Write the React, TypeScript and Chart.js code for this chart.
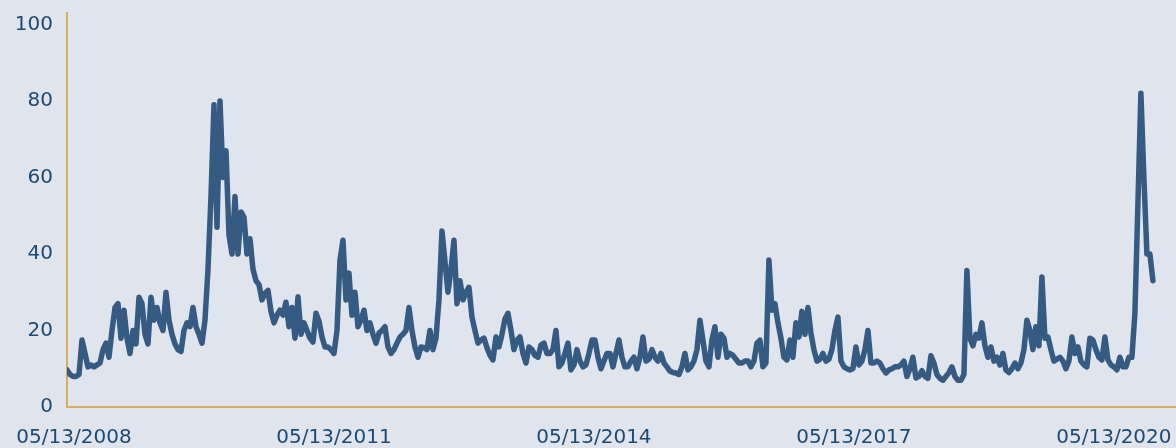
import React, { useEffect, useRef } from "react";
import { Chart, registerables } from "chart.js";

Chart.register(...registerables);

// Volatility index readings, one sample per equal step along the time axis.
const seriesPart1 = [
  9.7, 8.5, 8, 8, 8.5, 17.5, 14, 10.5, 11, 10.5,
  11, 11.5, 15, 16.7, 13, 20, 26, 27, 18, 25.3,
  18, 14, 20, 16.5, 28.7, 27, 19, 16.5, 28.7, 22.7,
  26, 22, 20, 30, 22.7, 19, 16.5, 15, 14.5, 20,
  22, 21, 26, 21, 19, 16.7, 22.7, 36, 55, 79,
  47, 80, 60, 67, 45, 40, 55, 40, 51, 49.6,
  40, 44, 36, 33, 32, 28, 29.7, 30.5, 25, 22,
  24, 25.3, 24, 27.4, 21, 26, 18, 28.8, 19, 22,
  20, 18, 17, 24.5, 22.5, 18.3, 15.7, 15.7, 15, 14,
];

const seriesPart2 = [
  20, 38.4, 43.6, 28, 35, 24, 30, 21, 22.7, 25.3,
  20, 22, 19, 16.7, 19.3, 20, 21, 15.7, 14, 15,
  16.7, 18.3, 19, 20, 26, 20, 15.7, 13, 15.7, 15.5,
  15, 20, 15, 18, 28, 46, 38, 30, 36, 43.6,
  27, 33, 28, 30, 31.3, 23.5, 20, 16.7, 17.5, 18,
  15.5, 13.5, 12.3, 18.3, 15.7, 19, 23, 24.5, 20, 15,
  17.5, 18.3, 14, 11.5, 15.7, 15, 13.5, 13, 16.2, 16.7,
  14, 14, 15, 20, 10.5, 11.5, 14, 16.7, 9.7, 11,
  15, 12, 10.5, 11, 14, 17.5, 17.5, 13,
];

const seriesPart3 = [
  10, 12, 14, 14, 10.5, 14, 17.5, 13, 10.5, 10.5,
  12, 13, 10, 13, 18.3, 12, 12.5, 15, 13, 12,
  14, 11.5, 10.5, 9.4, 9, 8.9, 8.5, 10.5, 14, 9.7,
  10.5, 12, 15, 22.7, 17.5, 12, 10.5, 17.5, 21, 13,
  19, 18, 13, 14, 13.5, 12.5, 11.5, 11.5, 12, 12,
  10.5, 12, 16.7, 17.5, 10.5, 11.5, 38.4, 25.3, 27, 22,
  18, 13, 12.3, 17.5, 13, 22, 18.3, 25, 19, 26,
  19.3, 15, 12, 12.5, 14, 12, 12.5, 15, 20, 23.5,
  12, 10.5, 10, 9.7, 10, 15.7, 11, 12, 15,
];

const seriesPart4 = [
  20, 11.5, 11.5, 12, 11.5, 10, 8.9, 9.7, 10, 10.5,
  10.5, 11, 12, 8, 10, 13, 7.6, 8, 9.5, 8,
  7.5, 13.4, 11.5, 8.5, 7.5, 7, 8, 9, 10.5, 8,
  7, 7, 8.5, 35.7, 18, 16, 19, 18, 22, 16,
  13, 15.7, 12, 13, 11, 14, 9.7, 9, 10, 11.5,
  10, 11.5, 15, 22.7, 20, 15, 21, 16, 34, 18,
  18.3, 15, 12, 12.5, 13, 12, 10, 12, 18.3, 14,
  15.7, 12, 11, 10.5, 18, 17.5, 15, 13, 12.3, 18.3,
  12.3, 11, 10.5, 9.7, 13, 10.5, 10.5, 13, 13, 24.5,
  53, 82, 60, 40, 40, 33,
];

const values = [...seriesPart1, ...seriesPart2, ...seriesPart3, ...seriesPart4];

// X tick labels and the sample positions they sit at.
const xTickLabels = ["05/13/2008", "05/13/2011", "05/13/2014", "05/13/2017", "05/13/2020"];
const xTickPositions = [2.33, 89, 175.67, 262.33, 349];
const xAxisMax = 369.7;

const yTickValues = [0, 20, 40, 60, 80, 100];
const yAxisMax = 103;

const BG = "#e0e4ec";
const LINE = "#355b82";
const AXIS = "#d9ae5f";
const TEXT = "#1c4a73";
const FONT = "'DejaVu Sans', sans-serif";

export default function App() {
  const canvasRef = useRef<HTMLCanvasElement | null>(null);

  useEffect(() => {
    document.body.style.margin = "0";
    document.body.style.background = BG;
    const canvas = canvasRef.current;
    if (!canvas) return;
    const chart = new Chart(canvas, {
      type: "line",
      data: {
        datasets: [
          {
            data: values.map((y, i) => ({ x: i, y })),
            borderColor: LINE,
            borderWidth: 5.5,
            pointRadius: 0,
            tension: 0,
            borderJoinStyle: "round",
            borderCapStyle: "round",
            fill: false,
          },
        ],
      },
      options: {
        animation: false,
        responsive: false,
        maintainAspectRatio: false,
        devicePixelRatio: 1,
        layout: { padding: { left: 0, top: 13, right: 0, bottom: 0 } },
        plugins: { legend: { display: false }, tooltip: { enabled: false } },
        scales: {
          x: {
            type: "linear",
            min: 0,
            max: xAxisMax,
            grid: { display: false, drawTicks: false },
            border: { display: true, color: AXIS, width: 2 },
            afterBuildTicks: (scale: any) => {
              scale.ticks = xTickPositions.map((v) => ({ value: v }));
            },
            afterFit: (scale: any) => {
              scale.height = 41;
              scale.paddingLeft = 0;
              scale.paddingRight = 0;
            },
            ticks: {
              autoSkip: false,
              maxRotation: 0,
              padding: 19,
              color: TEXT,
              font: { family: FONT, size: 20 },
              callback: (v: any) => {
                const idx = xTickPositions.indexOf(Number(v));
                return idx >= 0 ? xTickLabels[idx] : "";
              },
            },
          },
          y: {
            type: "linear",
            min: 0,
            max: yAxisMax,
            grid: { display: false, drawTicks: false },
            border: { display: true, color: AXIS, width: 2 },
            afterBuildTicks: (scale: any) => {
              scale.ticks = yTickValues.map((v) => ({ value: v }));
            },
            afterFit: (scale: any) => {
              scale.width = 67;
              scale.paddingTop = 0;
              scale.paddingBottom = 0;
            },
            ticks: {
              padding: 14,
              color: TEXT,
              font: { family: FONT, size: 20 },
            },
          },
        },
      },
    });
    return () => chart.destroy();
  }, []);

  return (
    <div style={{ width: 1176, height: 448, background: BG }}>
      <canvas ref={canvasRef} width={1176} height={448} style={{ display: "block" }} />
    </div>
  );
}
